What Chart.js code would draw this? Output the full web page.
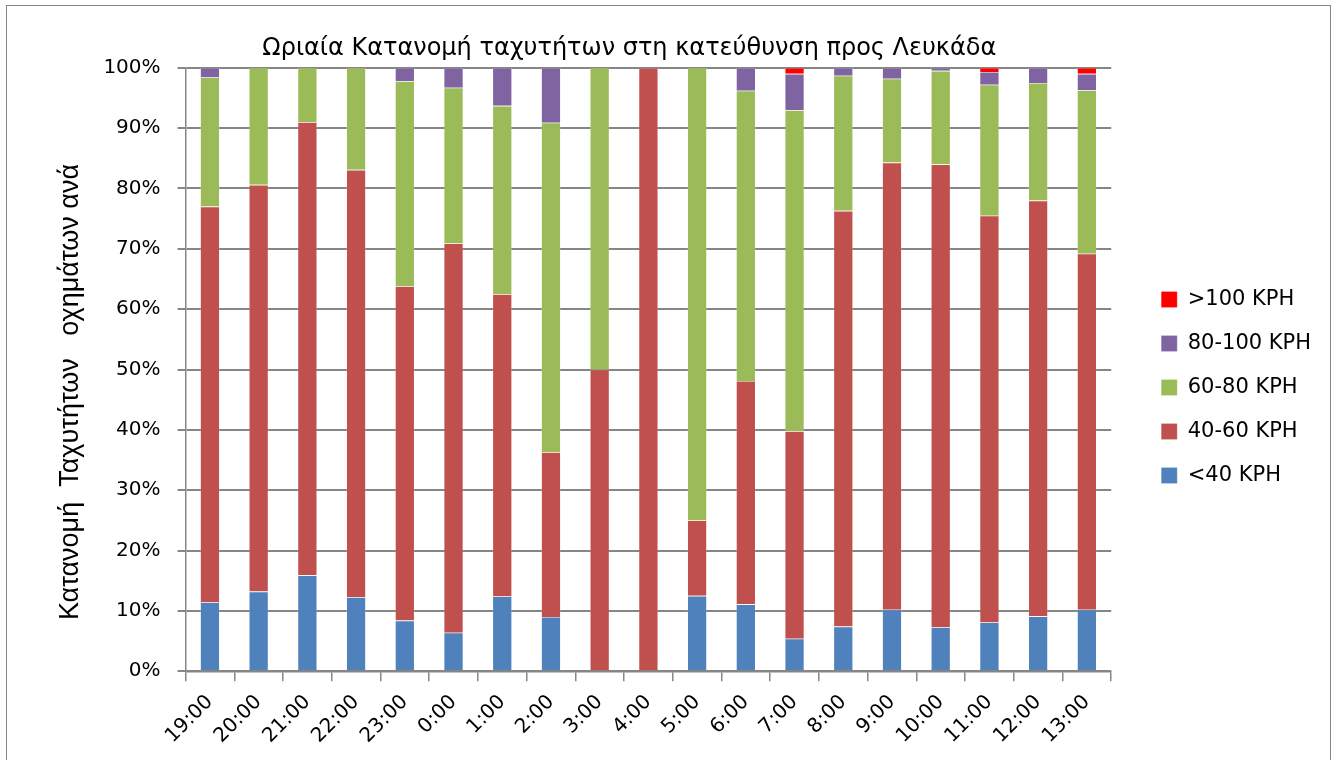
<!DOCTYPE html>
<html>
<head>
<meta charset="utf-8">
<script src="https://cdn.jsdelivr.net/npm/chart.js@4/dist/chart.umd.min.js"></script>
<style>
  html, body { margin: 0; padding: 0; background: #fff; overflow: hidden; }
  #frame {
    position: absolute; left: 6px; top: 5px;
    width: 1323px; height: 780px;
    border: 1px solid #868686;
  }
  #box { position: relative; width: 1323px; height: 754px; }
</style>
</head>
<body>
<div id="frame"><div id="box"><canvas id="chart"></canvas></div></div>
<script>
// ώρες
const hours = ["19:00","20:00","21:00","22:00","23:00","0:00","1:00","2:00","3:00","4:00",
               "5:00","6:00","7:00","8:00","9:00","10:00","11:00","12:00","13:00"];

// ποσοστά ανά κατηγορία ταχύτητας (%)
const under40 = [11.4, 13.2, 15.9, 12.3, 8.4, 6.4, 12.4, 9.0, 0, 0, 12.5, 11.1, 5.4, 7.4, 10.2, 7.3, 8.1, 9.1, 10.2];
const s40_60  = [65.6, 67.4, 75.1, 70.8, 55.4, 64.5, 50.1, 27.3, 50, 100, 12.5, 37.0, 34.4, 68.9, 74.1, 76.7, 67.4, 68.9, 59.0];
const s60_80  = [21.4, 19.4, 9.0, 16.9, 34.0, 25.8, 31.2, 54.6, 50, 0, 75, 48.1, 53.2, 22.4, 13.9, 15.5, 21.7, 19.5, 27.1];
const s80_100 = [1.6, 0, 0, 0, 2.2, 3.3, 6.3, 9.1, 0, 0, 0, 3.8, 6.0, 1.3, 1.8, 0.5, 2.1, 2.5, 2.7];
const over100 = [0, 0, 0, 0, 0, 0, 0, 0, 0, 0, 0, 0, 1.0, 0, 0, 0, 0.7, 0, 1.0];

const yTicks = [0,10,20,30,40,50,60,70,80,90,100];

const grey = "#868686";
const sans = "'Liberation Sans', Arial, sans-serif";
const wide = "'DejaVu Sans', Verdana, sans-serif";

function ds(label, data, color){
  return {
    label, data,
    backgroundColor: color,
    borderColor: "rgba(255,255,255,0.35)",
    borderWidth: 0.6,
    categoryPercentage: 1.0,
    barPercentage: 0.4
  };
}

new Chart(document.getElementById("chart"), {
  type: "bar",
  data: {
    labels: hours,
    datasets: [
      ds("<40 KPH", under40, "#4F81BD"),
      ds("40-60 KPH", s40_60, "#C0504D"),
      ds("60-80 KPH", s60_80, "#9BBB59"),
      ds("80-100 KPH", s80_100, "#8064A2"),
      ds(">100 KPH", over100, "#FF0000")
    ]
  },
  options: {
    responsive: true,
    maintainAspectRatio: false,
    animation: false,
    layout: { padding: { left: 43, right: 9, top: 12, bottom: 3 } },
    plugins: {
      title: {
        display: true,
        fullSize: false,
        text: "Ωριαία Κατανομή ταχυτήτων στη κατεύθυνση προς Λευκάδα     ",
        color: "#000",
        font: { family: wide, size: 24, weight: "normal" },
        padding: { top: 16, bottom: 5 }
      },
      legend: {
        position: "right",
        reverse: true,
        labels: {
          color: "#000",
          font: { family: wide, size: 21 },
          boxWidth: 16,
          boxHeight: 16,
          padding: 23
        }
      },
      tooltip: { enabled: false }
    },
    scales: {
      x: {
        stacked: true,
        grid: { offset: true, drawOnChartArea: false, drawTicks: true, tickLength: 10, color: grey, lineWidth: 1.5 },
        border: { color: grey, width: 1.5 },
        ticks: { color: "#000", font: { family: wide, size: 20 }, minRotation: 45, maxRotation: 45, padding: 9 }
      },
      y: {
        stacked: true,
        min: 0,
        max: 100,
        afterBuildTicks: (s) => { s.ticks = yTicks.map(v => ({ value: v })); },
        grid: { color: grey, lineWidth: 2, tickLength: 8 },
        border: { color: grey, width: 1.5 },
        ticks: { color: "#000", font: { family: wide, size: 20 }, padding: 17, callback: (v) => v + "%" },
        title: {
          display: true,
          text: "Κατανομή  Ταχυτήτων   οχημάτων ανά      ",
          color: "#000",
          font: { family: sans, size: 27 },
          padding: { top: 4, bottom: 0 }
        }
      },
      gap: {
        position: "right",
        display: true,
        grid: { display: false },
        border: { display: false },
        ticks: { display: false },
        afterFit: (s) => { s.width = 27; }
      }
    }
  }
});
</script>
</body>
</html>
